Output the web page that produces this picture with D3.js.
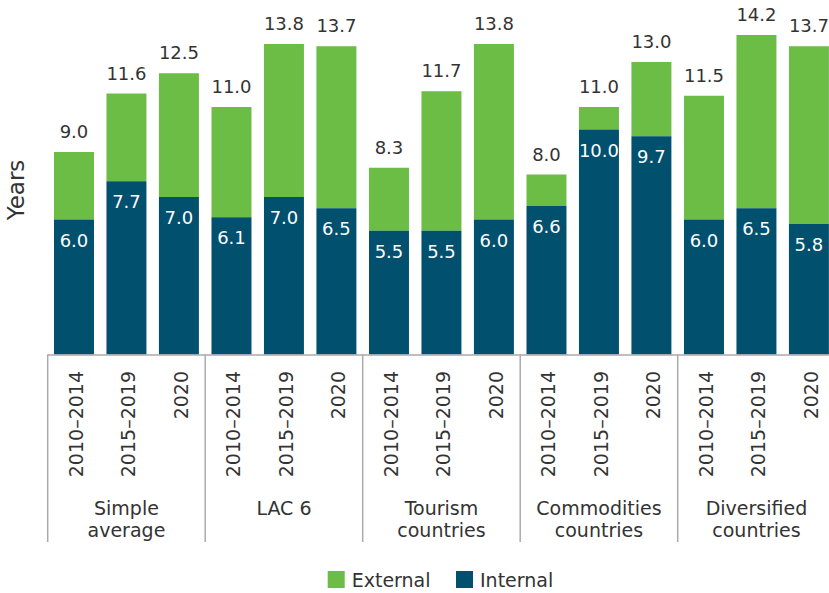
<html>
<head>
<script src="https://d3js.org/d3.v7.min.js"></script>
<style>
body { margin: 0; background: #fff; }
text { font-family: 'DejaVu Sans', sans-serif; fill: #333; }
</style>
</head>
<body>
<div id="chart"></div>
<script>
var width = 829, height = 593;

// data
var groups = [["Simple", "average"], ["LAC 6"], ["Tourism", "countries"], ["Commodities", "countries"], ["Diversified", "countries"]];
var periods = ["2010–2014", "2015–2019", "2020"];
var internal = [[6.0, 7.7, 7.0], [6.1, 7.0, 6.5], [5.5, 5.5, 6.0], [6.6, 10.0, 9.7], [6.0, 6.5, 5.8]];
var totals = [[9.0, 11.6, 12.5], [11.0, 13.8, 13.7], [8.3, 11.7, 13.8], [8.0, 11.0, 13.0], [11.5, 14.2, 13.7]];

var green = "#6bbd46", navy = "#00506e";

var svg = d3.select("#chart").append("svg")
  .attr("width", width).attr("height", height);

var base = 354.5;
var y = d3.scaleLinear().domain([0, 15]).range([base, base - 15 * 22.5]);
var xGroup = d3.scaleBand().domain(d3.range(groups.length)).range([47.7, 47.7 + 5 * 157.5]);
var xBar = d3.scaleBand().domain(periods).range([0, 157.5]).paddingInner(0.238).paddingOuter(0.12);

var rows = [];
groups.forEach(function (g, i) {
  periods.forEach(function (p, j) {
    rows.push({ g: i, p: p, internal: internal[i][j], total: totals[i][j] });
  });
});

function bx(d) { return xGroup(d.g) + xBar(d.p); }

// external (stacked on top)
svg.selectAll("rect.ext").data(rows).enter().append("rect")
  .attr("x", bx).attr("width", xBar.bandwidth())
  .attr("y", function (d) { return y(d.total); })
  .attr("height", function (d) { return y(d.internal) - y(d.total); })
  .attr("fill", green);

svg.selectAll("rect.int").data(rows).enter().append("rect")
  .attr("x", bx).attr("width", xBar.bandwidth())
  .attr("y", function (d) { return y(d.internal); })
  .attr("height", function (d) { return y(0) - y(d.internal); })
  .attr("fill", navy);

// labels
svg.selectAll("text.tot").data(rows).enter().append("text")
  .attr("x", function (d) { return bx(d) + xBar.bandwidth() / 2; })
  .attr("y", function (d) { return y(d.total) - 14; })
  .attr("text-anchor", "middle").style("font-size", "18px")
  .text(function (d) { return d.total.toFixed(1); });

svg.selectAll("text.in").data(rows).enter().append("text")
  .attr("x", function (d) { return bx(d) + xBar.bandwidth() / 2; })
  .attr("y", function (d) { return y(d.internal) + 27; })
  .attr("text-anchor", "middle").style("font-size", "18px").style("fill", "#fff")
  .text(function (d) { return d.internal.toFixed(1); });

// axis line and separators
svg.append("line").attr("x1", 47.7).attr("x2", width).attr("y1", base + 0.5).attr("y2", base + 0.5)
  .attr("stroke", "#aaa").attr("stroke-width", 1.5);
svg.selectAll("line.sep").data(d3.range(groups.length)).enter().append("line")
  .attr("x1", function (i) { return xGroup(i); }).attr("x2", function (i) { return xGroup(i); })
  .attr("y1", base).attr("y2", 542)
  .attr("stroke", "#aaa").attr("stroke-width", 1.5);

// period labels
svg.selectAll("text.per").data(rows).enter().append("text")
  .attr("transform", function (d) {
    return "translate(" + (bx(d) + xBar.bandwidth() / 2 + 9) + ",371) rotate(-90)";
  })
  .attr("text-anchor", "end").style("font-size", "19px")
  .text(function (d) { return d.p; });

// group labels
groups.forEach(function (g, i) {
  var t = svg.append("text")
    .attr("x", xGroup(i) + xGroup.bandwidth() / 2).attr("y", 515)
    .attr("text-anchor", "middle").style("font-size", "19px");
  g.forEach(function (line, k) {
    t.append("tspan").attr("x", xGroup(i) + xGroup.bandwidth() / 2)
      .attr("dy", k === 0 ? 0 : 22).text(line);
  });
});

// y title
svg.append("text").attr("transform", "translate(24,190) rotate(-90)")
  .attr("text-anchor", "middle").style("font-size", "23px").text("Years");

// legend
var legend = [["External", green, 327.7], ["Internal", navy, 456]];
legend.forEach(function (l) {
  svg.append("rect").attr("x", l[2]).attr("y", 571).attr("width", 17).attr("height", 17).attr("fill", l[1]);
  svg.append("text").attr("x", l[2] + 24).attr("y", 587).style("font-size", "19px").text(l[0]);
});
</script>
</body>
</html>
